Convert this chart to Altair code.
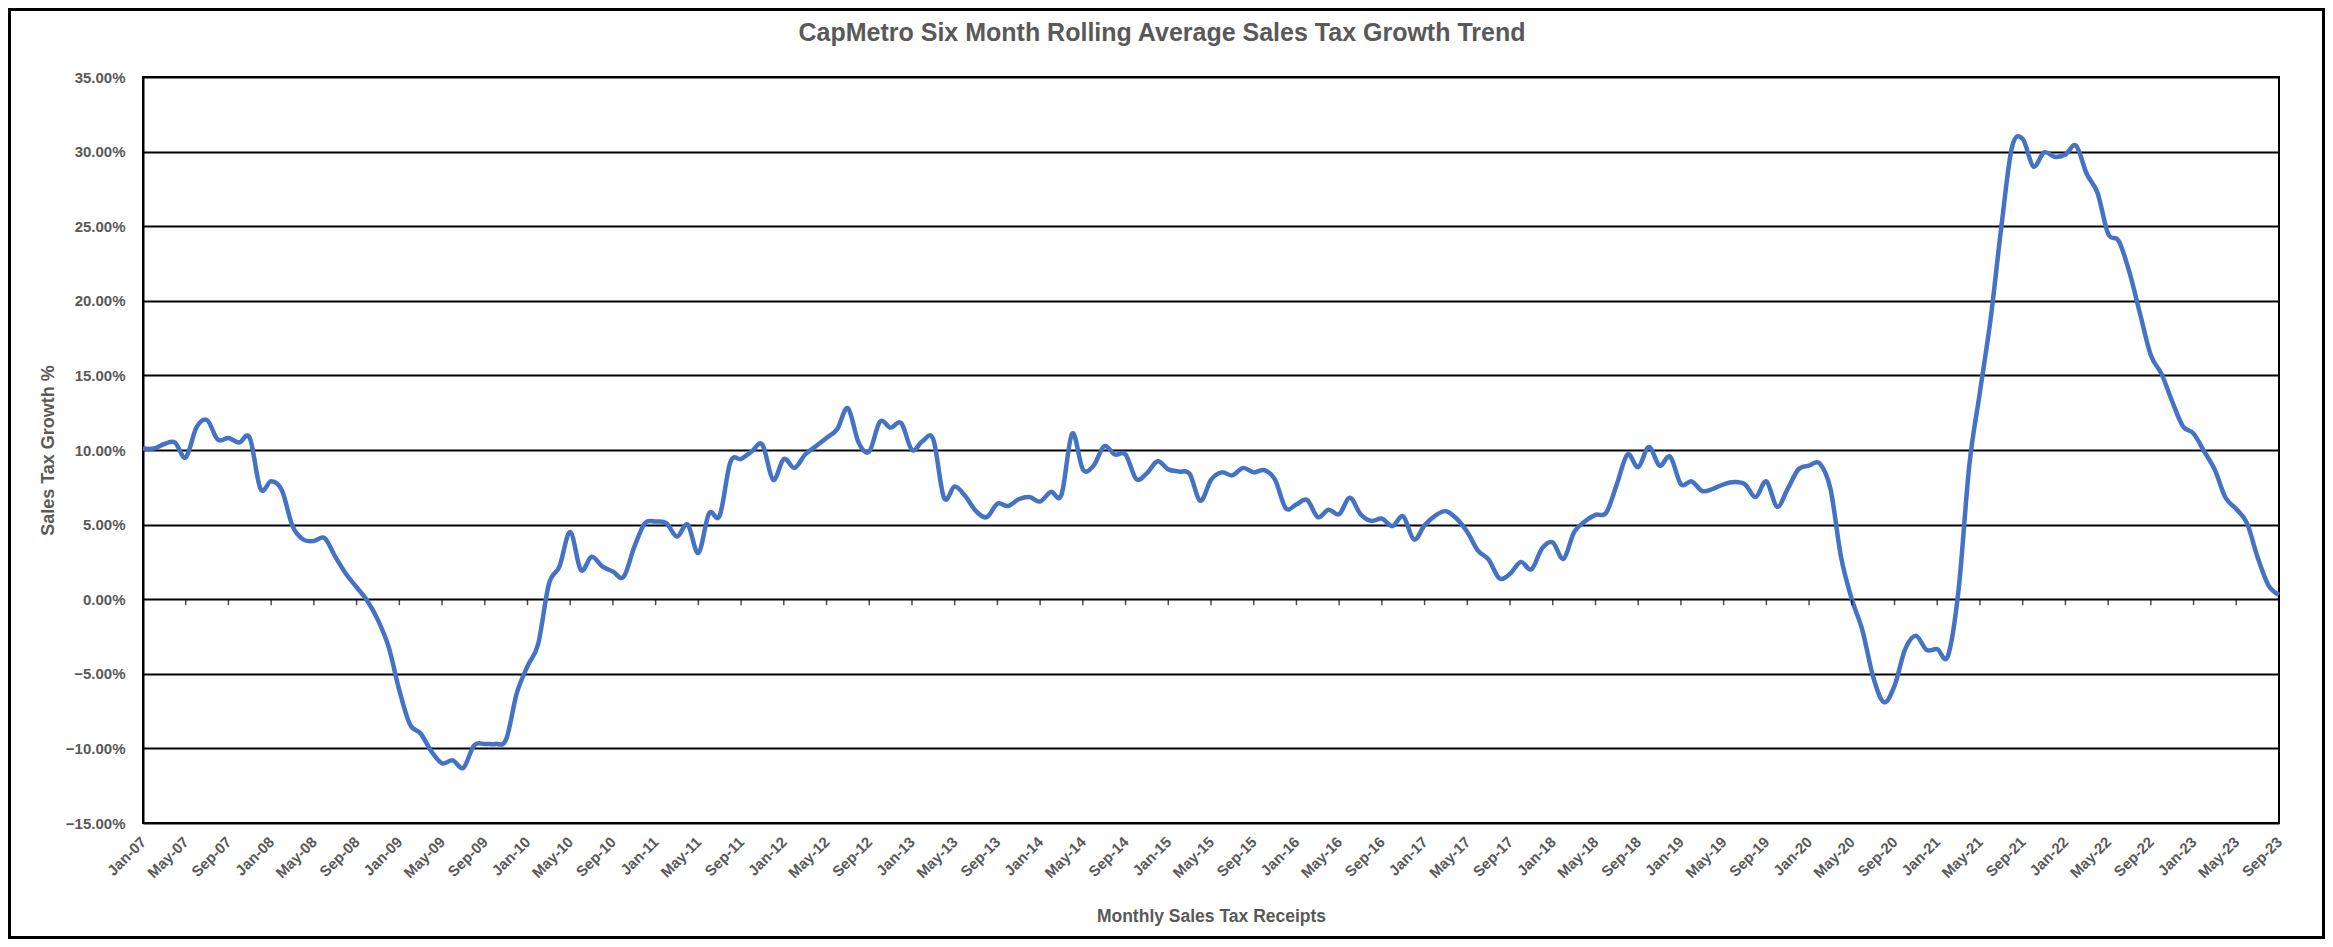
import altair as alt
import pandas as pd

# ---- data (six-month rolling average sales tax growth, %) ----
MONTH_NAMES = ["Jan", "Feb", "Mar", "Apr", "May", "Jun",
               "Jul", "Aug", "Sep", "Oct", "Nov", "Dec"]
START_YEAR = 2007

growth = [
    10.1, 10.1, 10.4, 10.5, 9.5, 11.5, 12.0, 10.7, 10.8, 10.5,
    10.8, 7.4, 7.9, 7.3, 4.9, 4.0, 3.9, 4.1, 2.85, 1.7,
    0.8, -0.1, -1.4, -3.2, -6.1, -8.4, -9.0, -10.2, -11.0, -10.8,
    -11.3, -9.8, -9.7, -9.7, -9.4, -6.3, -4.5, -3.0, 1.0, 2.2,
    4.5, 1.95, 2.85, 2.2, 1.85, 1.5, 3.5, 5.1, 5.2, 5.1,
    4.2, 5.0, 3.1, 5.75, 5.6, 9.2, 9.4, 9.9, 10.35, 8.0,
    9.4, 8.8, 9.7, 10.25, 10.8, 11.4, 12.8, 10.5, 9.9, 11.9,
    11.5, 11.8, 10.0, 10.6, 10.7, 6.8, 7.55, 6.9, 5.9, 5.5,
    6.4, 6.25, 6.7, 6.85, 6.55, 7.2, 7.0, 11.1, 8.7, 8.95,
    10.25, 9.7, 9.7, 8.05, 8.45, 9.25, 8.7, 8.55, 8.4, 6.6,
    8.0, 8.5, 8.3, 8.8, 8.5, 8.65, 8.0, 6.1, 6.35, 6.65,
    5.5, 6.0, 5.7, 6.8, 5.7, 5.25, 5.4, 4.9, 5.55, 4.0,
    4.95, 5.6, 5.9, 5.4, 4.5, 3.25, 2.65, 1.4, 1.7, 2.5,
    2.0, 3.4, 3.8, 2.7, 4.5, 5.2, 5.65, 5.8, 7.7, 9.7,
    8.85, 10.2, 8.95, 9.55, 7.7, 7.9, 7.25, 7.4, 7.7, 7.85,
    7.7, 6.85, 7.9, 6.2, 7.4, 8.7, 8.95, 9.1, 7.4, 2.8,
    0.0, -2.1, -5.2, -6.9, -5.8, -3.35, -2.45, -3.4, -3.35, -3.8,
    0.65, 8.95, 13.9, 18.8, 24.95, 30.3, 30.85, 29.0, 29.95, 29.65,
    29.8, 30.4, 28.5, 27.25, 24.5, 24.0, 21.9, 19.1, 16.35, 15.1,
    13.25, 11.6, 11.1, 9.9, 8.65, 6.8, 6.05, 5.1, 2.8, 0.95,
    0.3,
]

months = [f"{MONTH_NAMES[k % 12]}-{(START_YEAR + k // 12) % 100:02d}"
          for k in range(len(growth))]
tick_labels = months[::4]
y_ticks = [-15, -10, -5, 0, 5, 10, 15, 20, 25, 30, 35]

df = pd.DataFrame({"month": months, "growth": growth})
ticks_df = pd.DataFrame({"month": tick_labels})
frame_df = pd.DataFrame({"k": [0]})

# ---- layout ----
W, H = 2136, 746
PAD = {"left": 135, "top": 69, "right": 46, "bottom": 116}
FONT = "Liberation Sans"
GREY = "#595959"

x_enc = alt.X(
    "month:O",
    sort=months,
    scale=alt.Scale(type="point", padding=0, domain=months),
    axis=alt.Axis(
        values=tick_labels,
        labelAngle=315,
        labelAlign="right",
        labelBaseline="middle",
        labelPadding=16,
        labelOverlap=False,
        labelBound=False,
        labelFlush=False,
        labelFont=FONT,
        labelFontSize=15,
        labelFontWeight="bold",
        labelColor=GREY,
        ticks=False,
        domain=False,
        grid=False,
        title="Monthly Sales Tax Receipts",
        titleFont=FONT,
        titleFontSize=17.5,
        titleFontWeight="bold",
        titleColor=GREY,
        titleX=W / 2,
        titleY=93,
        titleAlign="center",
        titleBaseline="middle",
    ),
)

y_enc = alt.Y(
    "growth:Q",
    scale=alt.Scale(domain=[-15, 35], nice=False, zero=False),
    axis=alt.Axis(
        values=y_ticks,
        labelExpr="format(datum.value, '.2f') + '%'",
        labelFont=FONT,
        labelFontSize=15,
        labelFontWeight="bold",
        labelColor=GREY,
        labelPadding=18,
        ticks=False,
        tickSize=0,
        grid=True,
        gridColor="black",
        gridWidth=2,
        domain=True,
        domainColor="black",
        domainWidth=2,
        title="Sales Tax Growth %",
        titleFont=FONT,
        titleFontSize=18,
        titleFontWeight="bold",
        titleColor=GREY,
        titleAngle=270,
        titleX=-95,
        titleY=H / 2,
        titleAlign="center",
        titleBaseline="middle",
    ),
)

line = alt.Chart(df).mark_line(
    color="#4472C4", strokeWidth=4.5, interpolate="cardinal"
).encode(x=x_enc, y=y_enc)

ticks = alt.Chart(ticks_df).mark_tick(
    orient="vertical", size=6, thickness=1.5, yOffset=3, color="black"
).encode(x=x_enc, y=alt.datum(0))

frame = alt.Chart(frame_df).mark_rect(
    filled=False, stroke="black", strokeWidth=3, clip=False
).encode(
    x=alt.value(-PAD["left"] + 1.5),
    x2=alt.value(W + PAD["right"] - 1.5),
    y=alt.value(-PAD["top"] + 1.5),
    y2=alt.value(H + PAD["bottom"] - 1.5),
)

chart = alt.layer(line, ticks, frame).properties(
    width=W,
    height=H,
    autosize=alt.AutoSizeParams(type="none"),
    padding=PAD,
    background="white",
    title=alt.TitleParams(
        "CapMetro Six Month Rolling Average Sales Tax Growth Trend",
        font=FONT,
        fontSize=25,
        fontWeight="bold",
        color=GREY,
        anchor="middle",
        dx=-49,
        offset=-38,
    ),
).configure_view(stroke="black", strokeWidth=2)

chart.save("out.html", embed_options={"renderer": "svg", "actions": False})
